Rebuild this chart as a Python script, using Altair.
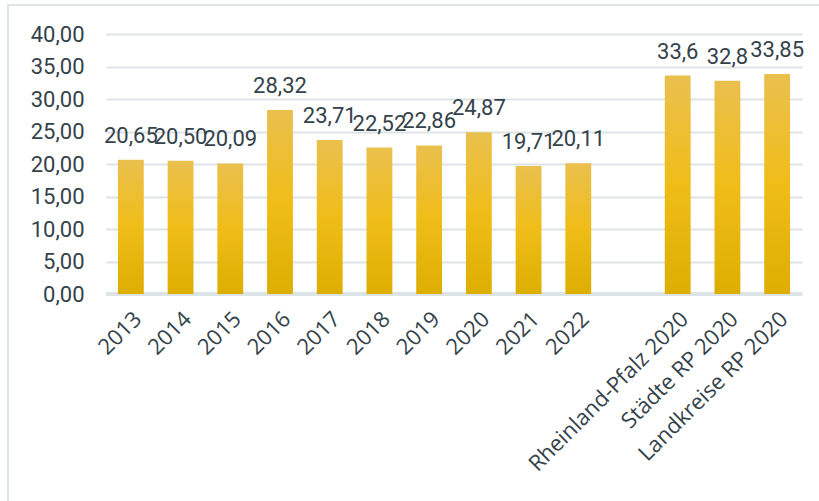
import altair as alt
import pandas as pd

categories = ["2013", "2014", "2015", "2016", "2017", "2018", "2019", "2020", "2021", "2022",
              "Rheinland-Pfalz 2020", "Städte RP 2020", "Landkreise RP 2020"]
values = [20.65, 20.50, 20.09, 28.32, 23.71, 22.52, 22.86, 24.87, 19.71, 20.11, 33.6, 32.8, 33.85]
labels = ["20,65", "20,50", "20,09", "28,32", "23,71", "22,52", "22,86", "24,87", "19,71", "20,11",
          "33,6", "32,8", "33,85"]
y_ticks = [0, 5, 10, 15, 20, 25, 30, 35, 40]
domain = categories[:10] + [" "] + categories[10:]

df = pd.DataFrame({"cat": categories, "val": values, "lab": labels})

grid_c = "#DCE4E6"
text_c = "#34424A"

x = alt.X("cat:N", sort=domain,
          scale=alt.Scale(domain=domain, paddingInner=0.48, paddingOuter=0.24),
          axis=alt.Axis(title=None, labelAngle=-45, labelAlign="right", labelBaseline="top",
                        labelFont="Open Sans", labelFontSize=22, labelColor=text_c,
                        ticks=False, domain=False, labelPadding=14, grid=False,
                        labelOverlap=False, labelLimit=400))
y = alt.Y("val:Q", scale=alt.Scale(domain=[0, 40], nice=False),
          axis=alt.Axis(title=None, values=y_ticks,
                        labelExpr="replace(format(datum.value, '.2f'), '.', ',')",
                        labelFont="Roboto", labelFontSize=22, labelColor=text_c,
                        labelPadding=22, ticks=False, domain=False, labelOverlap=False,
                        gridColor=grid_c, gridWidth=2))

grad = alt.Gradient(gradient="linear", x1=0, x2=0, y1=0, y2=1,
                    stops=[alt.GradientStop(color="#EAC04E", offset=0),
                           alt.GradientStop(color="#F0BD18", offset=0.5),
                           alt.GradientStop(color="#DDAE02", offset=1)])

bars = alt.Chart(df).mark_bar(color=grad).encode(x=x, y=y)
text = alt.Chart(df).mark_text(font="Roboto", fontSize=22, color=text_c, baseline="alphabetic",
                               dy=-17).encode(x=x, y=y, text="lab:N")

border = alt.Chart(df).mark_rect(fill=None, stroke=grid_c, strokeWidth=2).encode(
    x=alt.value(-98), x2=alt.value(760), y=alt.value(-29), y2=alt.value(600))

zero = alt.Chart(df).mark_rule(color=grid_c, strokeWidth=2.5).encode(
    x=alt.value(0), x2=alt.value(696), y=alt.value(260))

chart = alt.layer(border, zero, bars, text).properties(
    width=696, height=260,
    autosize=alt.AutoSizeParams(type="none"),
    padding={"left": 106, "top": 34, "right": 17, "bottom": 207},
    background="white",
).configure_view(stroke=None)

chart.save("out.html", embed_options={"renderer": "svg", "actions": False})
